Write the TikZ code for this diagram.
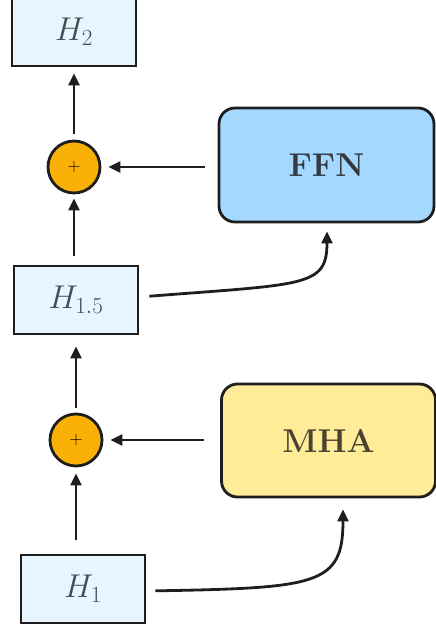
\RequirePackage{fix-cm}
\documentclass[tikz,border=0pt]{standalone}
\usepackage{amsmath}
\usetikzlibrary{positioning}
\usetikzlibrary{arrows.meta}

\definecolor{hfill}{HTML}{E7F5FF}
\definecolor{htext}{HTML}{434B53}
\definecolor{ffnfill}{HTML}{A5D8FF}
\definecolor{ffntext}{HTML}{343A40}
\definecolor{mhafill}{HTML}{FFEC99}
\definecolor{mhatext}{HTML}{4A4230}
\definecolor{addfill}{HTML}{FAB005}
\definecolor{ink}{HTML}{1E1E1E}

\begin{document}
\begin{tikzpicture}[
    x = 1pt, y = -1pt,
    hidden/.style = {shape = rectangle, draw = ink, fill = hfill, line width = 2.8pt, minimum width = 124pt, minimum height = 68pt, inner sep = 0pt, text = htext, font = \fontsize{33}{38}\selectfont},
    block/.style = {shape = rectangle, rounded corners = 16pt, draw = ink, line width = 2.8pt, minimum width = 214pt, minimum height = 113pt, inner sep = 0pt, font = \bfseries\fontsize{33}{38}\selectfont},
    addnode/.style = {shape = circle, draw = ink, fill = addfill, line width = 2.8pt, minimum size = 52pt, inner sep = 0pt, font = \fontsize{18}{18}\selectfont},
    flow/.style = {draw = ink, line width = 2.8pt, -{Triangle[length = 12pt, width = 11pt]}},
    ]
    \useasboundingbox (0,0) rectangle (436,632);

    \node[hidden] (H1) at (83,589) {$H_1$};
    \node[addnode] (addA) at (76,440) {+};
    \node[hidden] (H15) at (76,300) {$H_{1.5}$};
    \node[addnode] (addB) at (74,167) {+};
    \node[hidden] (H2) at (74,32) {$H_2$};

    \node[block, fill = mhafill, text = mhatext] (MHA) at (328.5,440.5) {MHA};
    \node[block, fill = ffnfill, text = ffntext, minimum width = 215pt, minimum height = 114pt] (FFN) at (326.5,165) {FFN};

    % residual path
    \draw[flow, shorten <= 14pt, shorten >= 6pt] (H1.north -| addA.south) -- (addA.south);
    \draw[flow, shorten <= 5pt, shorten >= 11pt] (addA.north) -- (H15.south -| addA.north);
    \draw[flow, shorten <= 9pt, shorten >= 4pt] (H15.north -| addB.south) -- (addB.south);
    \draw[flow, shorten <= 6pt, shorten >= 6pt] (addB.north) -- (H2.south -| addB.north);

    % sublayer outputs
    \draw[flow, shorten <= 16pt, shorten >= 7pt] (MHA.west |- addA.east) -- (addA.east);
    \draw[flow, shorten <= 13pt, shorten >= 7pt] (FFN.west |- addB.east) -- (addB.east);

    % sublayer inputs
    \draw[flow, shorten <= 9pt, shorten >= 11pt] ([yshift = -2pt]H1.east) .. controls (318,588) and (343,585) .. ([xshift = 14.5pt]MHA.south);
    \draw[flow, shorten <= 10pt, shorten >= 8pt] ([yshift = 3pt]H15.east) .. controls (305,284) and (327,287) .. ([xshift = 0.5pt]FFN.south);
\end{tikzpicture}
\end{document}
